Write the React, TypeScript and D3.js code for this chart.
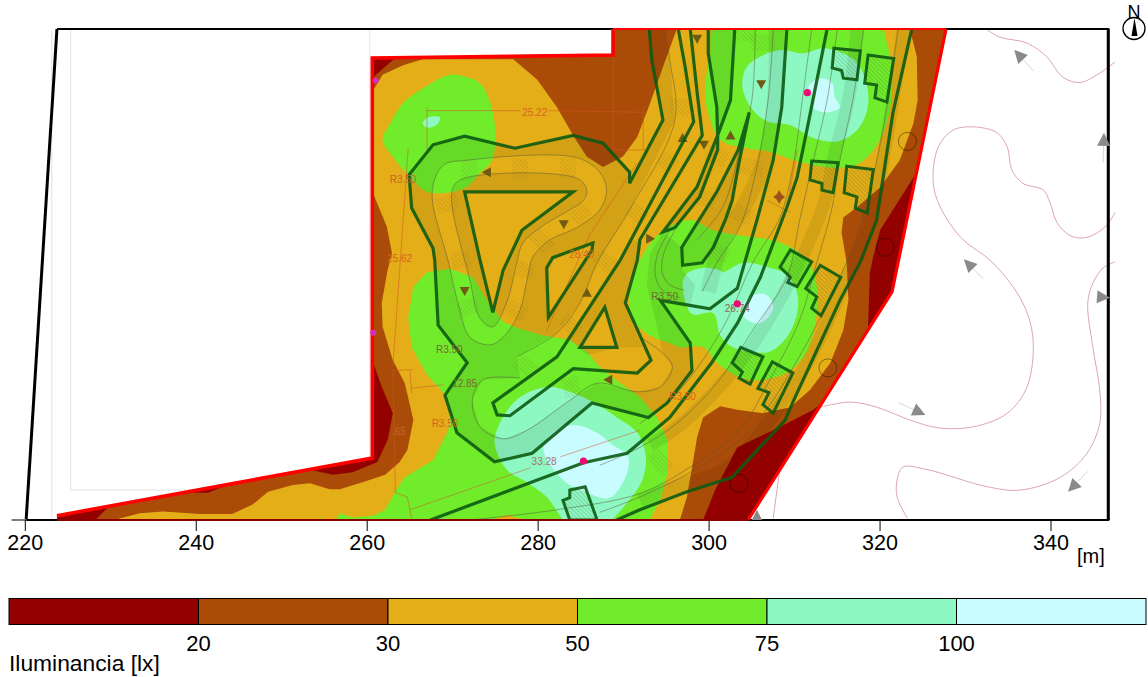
import React from "react";
import * as d3 from "d3";

type P = [number, number];

const width = 1148;
const height = 677;
const xTicks = [220, 240, 260, 280, 300, 320, 340];
const legendColors = ["#920000", "#AA4C08", "#E3AE17", "#70EC2B", "#8EF8C3", "#C9FCFF"];
const legendLabels = ["20", "30", "50", "75", "100"];
const legendTitle = "Iluminancia [lx]";

const siteBoundary: P[] = [[223.7, 0.5], [260.6, 7.25], [260.6, 54.05], [288.76, 54.4], [288.76, 57.45], [327.72, 57.45], [321.4, 26.68], [304.56, 0], [223.7, 0]];
const siteWest: P[] = [[223.7, 0.5], [260.6, 7.25], [260.6, 54.05], [288.76, 54.4], [288.76, 57.45]];
const siteNorth: P[] = [[288.76, 57.45], [327.72, 57.45]];
const siteEast: P[] = [[327.72, 57.45], [321.4, 26.68], [304.56, 0]];
const frameOutline: P[] = [[223.7, 57.45], [346.7, 57.45], [346.7, 0], [220.1, 0]];
const ghostLines: P[][] = [
  [[225.3, 57.4], [225.3, 3.5], [260.3, 3.5], [260.3, 57.4]],
  [[223.1, 57.4], [223.1, 0]],
];

const darkPatches: P[][] = [
  [[260.6, 54.1], [263.3, 54.1], [260.7, 51.8]],
  [[259.7, 18.7], [260.6, 18.7], [261.7, 15.6], [263, 12.5], [262.4, 9.4], [261.2, 6.8], [258.3, 5.6], [256, 5.3], [253.7, 5.8], [252.1, 7], [259.2, 8.2]],
  [[238.7, 3.2], [241.4, 3.2], [243.6, 4.1], [243.6, 5.8], [236.9, 4.7]],
  [[222.9, 1.2], [230.5, 2.3], [229.6, 1.4], [228.2, 0], [222.9, 0]],
  [[299.3, 0], [300.7, 3.5], [303.3, 8.5], [308.3, 10.9], [312.2, 12.9], [316.5, 16.4], [305.9, -1.2], [299.3, -1.2]],
  [[324.1, 40.4], [320, 33.9], [319.2, 30.8], [318.8, 28.9], [318.6, 22.6], [324.7, 25.7], [325.8, 40.4]],
];

const amberZone: P[] = [[259.7, 48.6], [261.8, 52.1], [264.2, 53.2], [266.5, 53.9], [277.1, 53.9], [279.9, 51.5], [282.2, 48.3], [284.1, 45], [285.7, 42.5], [287.6, 41.3], [289.9, 42.5], [291.6, 44.8], [293.1, 48.8], [294.6, 53], [296.2, 57.4], [296.2, 58.5], [323.5, 58.5], [323.5, 57.4], [324.3, 54.2], [324.4, 49.1], [323.9, 46.4], [322.3, 42.1], [320, 38.9], [317.3, 36.6], [315.7, 35.4], [315.5, 33.6], [316.1, 30.1], [316.3, 25.7], [315.7, 22.2], [314.2, 18.4], [311.8, 15.2], [309.5, 13.2], [306.3, 12.5], [303.3, 12.9], [301.3, 13.3], [299.3, 12], [298.6, 9.7], [298.1, 6.7], [297.4, 2.7], [296.4, -0.6], [230.7, -0.6], [230.7, 0.1], [233.4, 0.8], [236.1, 1], [240.4, 0.7], [244.2, 0.7], [246.6, 1.8], [248.4, 3.3], [251.3, 4.1], [253.3, 4.3], [255.6, 3.6], [256.8, 3.6], [260, 4.6], [262.1, 5.3], [263.8, 6.8], [264.7, 8.2], [265.4, 11.7], [264.4, 16], [263, 18.7], [261.8, 22.6], [261.7, 25.4], [262.4, 29.3], [262.9, 31.2], [262.3, 34.3], [260.7, 38.2], [259.7, 38.2]];

const greenLower: P[] = [[264.4, 5], [267.7, 7], [269.5, 10.5], [269.7, 12.9], [268.9, 14.9], [267, 17], [265.2, 20.2], [264.8, 23.7], [265.4, 27.3], [267, 29], [269.7, 29.4], [272.4, 28.4], [274, 25.7], [275.9, 23.2], [277.5, 22.5], [280.6, 21.6], [283.7, 21.1], [285.7, 19.7], [287.2, 17.9], [289.6, 16], [291.9, 14.4], [293.9, 12], [295.1, 9.4], [295.2, 5.8], [294.3, 2.3], [292.7, -0.6], [278.2, -0.6], [278.2, 0.1], [276.4, 0.6], [274.7, 0.1], [274.7, -0.6], [256, -0.6], [256.8, 0.8], [258.3, 0.3], [260.7, 0.5], [262.1, 1.2], [263.5, 3.7]];
const greenSliver: P[] = [[253.7, -0.6], [254.5, 0.3], [255.1, -0.6]];
const greenNorthWest: P[] = [[261.8, 44.5], [262.7, 46.4], [264.2, 48.8], [266.5, 50.5], [269.7, 52.1], [271.7, 51.8], [273.2, 51.1], [274.4, 48.8], [275, 45.3], [274.6, 42.1], [273.2, 40.6], [271.7, 39], [269.3, 38.3], [267, 38.4], [265, 40.1], [263, 42.5]];
const greenNorthEast: P[] = [[300.9, 58.5], [300.1, 54.2], [299.5, 50.3], [299.9, 47.6], [301.3, 44.5], [304.4, 43.5], [307.1, 43.1], [310.6, 41.9], [315, 41.2], [317.7, 41.8], [320, 44.5], [321.2, 48.3], [321.4, 52.3], [320.8, 55.8], [319.6, 58.5]];
const greenMiddle: P[] = [[294.3, 33.6], [297.8, 35.1], [300.5, 33.9], [303.6, 33.3], [308.3, 32.5], [311.5, 30.4], [312.6, 27.3], [312.6, 24.2], [311.5, 19.9], [309.5, 17.5], [306.3, 16.4], [303.6, 16.7], [300.9, 18.4], [299.3, 20.2], [296.6, 20.2], [295.4, 20.7], [293.1, 21.6], [291.1, 23.4], [290.7, 26.6], [291.9, 30.4]];

const mintSmall: P[] = [[266.5, 46.4], [267.1, 47.1], [268.5, 47.1], [268.3, 46.4], [267.1, 45.9]];
const mintNorth: P[] = [[303.9, 50.7], [304.4, 53], [306.8, 54.6], [308.6, 55], [311, 54.6], [313.3, 55.2], [315.7, 54.6], [317.3, 53.5], [318.5, 50.7], [318.5, 48], [317.3, 45.6], [315, 44.3], [312.2, 44.7], [309.5, 46.2], [306.9, 46.6], [305.1, 48]];
const mintMiddle: P[] = [[296.9, 27.7], [297.5, 28.9], [299.3, 29.5], [301.3, 29.2], [301.6, 29], [304, 30.1], [306.8, 29.6], [309.1, 28.7], [310.3, 26.6], [310.3, 24.2], [309.1, 21.4], [307.1, 19.7], [304.8, 19.7], [302.8, 20.2], [301.3, 21.6], [300.5, 24.2], [298, 24.1]];
const mintSouth: P[] = [[274.9, 9], [275.5, 11.3], [277.1, 13.7], [279, 15], [281.4, 15.6], [283.7, 15], [286.4, 13.8], [289.2, 12], [291.6, 10.2], [292.6, 7.4], [292.2, 4.7], [290.4, 2], [287.6, -0.6], [283.7, -0.6], [281, 2.7], [278.7, 4.4], [276.4, 5.8]];

const paleNorth: P[] = [[311.6, 50.7], [313.2, 51.7], [314.4, 51.1], [314.7, 49.5], [315.3, 48.3], [313.8, 47.7], [312.2, 48.2], [312.2, 49.5]];
const paleMiddle: P[] = [[303.6, 24.6], [305.1, 26.3], [306.8, 26.3], [307.5, 24.9], [306.9, 23.7], [305.7, 23], [304.2, 23.6]];
const paleSouth: P[] = [[280.6, 8.5], [282.2, 10.5], [284.5, 11.1], [286.9, 10.2], [288.4, 9], [290.5, 7.4], [290.4, 5.5], [288.4, 2.6], [285.7, 3.2], [283.4, 4.3], [281.6, 6.2]];

const kerbWest: P[] = [[293, 57.4], [293.3, 53.8], [294.6, 46.8], [290.7, 39.4], [290.7, 40.7], [287.6, 44.1], [284.1, 45], [277.3, 43.5], [271.4, 44.9], [267.7, 43.9], [264.9, 40.4], [265.2, 36.5], [267.7, 31.8], [267.9, 30.4], [268.3, 22.8], [271.7, 18.4], [269.1, 14.6], [270.5, 10.2], [274.9, 6.8], [279.3, 7.8], [286.3, 13.7], [292.9, 12], [295.1, 13.7], [298, 17.5], [297.8, 20.7], [294.3, 25.7], [300.1, 24.7], [303.3, 27.1], [305.6, 35.1], [307.5, 42.1], [308.5, 48.3], [309.1, 57.4]];
const kerbBlock: P[] = [[296.4, 57.4], [297.2, 53], [298.2, 46.6], [289.6, 30.4], [282.2, 19.1], [274.7, 13.7], [275.2, 12.3], [276.7, 12.2], [284.1, 17.7], [291.6, 17.2], [293.2, 18.7], [290.2, 25.4], [291.6, 30.4], [291.9, 32.8], [299.2, 45], [298.6, 50], [297.8, 57.4]];
const kerbCentre: P[] = [[299.9, 57.4], [299.9, 54.6], [300.9, 48.3], [301, 45], [298.6, 39], [294.6, 33.7], [296, 34.2], [298.9, 37.8], [301, 43.3], [301, 45], [302.5, 49.1], [303, 57.4]];
const kerbPocket: P[] = [[304.7, 47.7], [303.4, 43.3], [300.9, 38.4], [296.8, 31.9], [296.9, 29.8], [299.2, 30.1], [300.5, 31.9], [301.9, 35.1], [302.7, 37.4], [303.4, 41.3], [304.7, 47.7]];
const kerbSouth: P[] = [[267.4, 0], [285.3, 6.7], [290.4, 7.8], [295.4, 12], [300.3, 18.4], [303.3, 23], [306, 28.4], [309.1, 36.6], [310.3, 40.1], [311.6, 46.4], [313.8, 57.4]];
const kerbOuter: P[] = [[323.7, 57.4], [321.5, 47.6], [319.6, 35.1], [317.7, 30.2], [315.3, 25.7], [309.8, 13.8], [308.9, 11.7], [302.7, 5], [297.4, 3.3], [291.9, 1.2], [289.2, 0]];
const islandLarge: P[] = [[271.4, 38.4], [284.1, 38.4], [278.1, 33.9], [275.9, 29.2], [274.7, 24.3], [273.2, 30.4]];
const islandMedium: P[] = [[286.4, 32.4], [281.7, 30.7], [281, 29.5], [281.2, 23.7], [286.3, 31.6]];
const islandSmall: P[] = [[287.8, 24.9], [289.2, 20.2], [284.9, 20.2]];

const houses: P[][] = [
  [[314.6, 55.2], [317.7, 54.9], [317.3, 51.5], [315.7, 51.7], [315.5, 52.6], [314.4, 52.9]],
  [[318.6, 54.4], [321.6, 54], [320.8, 48.9], [319.4, 49.4], [319.6, 50.9], [318.2, 51.1]],
  [[312, 42], [315.1, 41.8], [314.5, 38.3], [313.2, 38.6], [313.2, 39.4], [311.8, 39.8]],
  [[316.1, 41.4], [319.2, 41], [318.5, 35.9], [317.1, 36.5], [317.3, 37.8], [315.8, 38.3]],
  [[309.5, 31.6], [312, 30.2], [310.3, 27.3], [309.2, 27.8], [309.5, 28.4], [308.3, 29.6]],
  [[313, 29.8], [315.4, 28.4], [313.1, 23.9], [312, 24.8], [312.6, 26.1], [311.3, 27.1]],
  [[303.7, 20.2], [306.3, 19.1], [304.8, 15.9], [303.5, 16.6], [303.9, 17.3], [302.7, 18.4]],
  [[307.4, 18.5], [309.8, 17.2], [307.5, 12.5], [306.3, 13.5], [307, 14.9], [305.7, 15.4]],
  [[283.7, 3.5], [285.5, 3.9], [286.9, 0], [283.7, 0], [282.9, 2.3], [283.7, 2.6]],
];

const loopOuter: P[] = [[267.6, 38.4], [268.9, 41.5], [271.7, 42.1], [284.5, 42.4], [287.2, 40.7], [288, 38.6], [287.2, 36.3], [284.5, 34.2], [281.4, 32.8], [279.4, 30.8], [278.7, 28.1], [277.9, 24.6], [276.1, 21.6], [274.4, 20.5], [272, 21.4], [270.7, 25.1], [269.5, 30.2]];
const loopInner: P[] = [[269.9, 38.3], [270.9, 39.8], [284.5, 40], [285.7, 38.6], [285.3, 37.4], [283.7, 36.3], [280.2, 34.2], [278.2, 32.4], [277.5, 30.1], [276.4, 25.7], [274.7, 22.6], [273.2, 23.6], [272, 28.1]];
const westRoadReturn: P[] = [[293.7, 23.4], [294.6, 19.5], [295.7, 17.9], [294.3, 15.6], [291.6, 15], [286.9, 16], [283.7, 14], [278.7, 10.5], [275.9, 9.5], [273.2, 10.9], [272.3, 14], [273.5, 16.4], [277.9, 16.6], [277.5, 19.1], [282.2, 21.9], [284.9, 25.4], [286.9, 30.1], [290.7, 36.3], [296, 46.8], [295.4, 53.8], [294.8, 57.4]];
const blockBody: P[] = [[292.2, 32.5], [290.2, 25.4], [291.1, 22.6], [292.2, 20.2], [289.6, 20.2], [285.7, 19.3], [283.7, 21.1], [289.6, 30.4], [290.9, 32.8]];
const arcPocket: P[] = [[294.6, 33.7], [293.1, 31.2], [292.7, 27.5], [293.7, 23.4], [294.5, 25.7], [297.8, 25.1], [298.4, 27.5], [296.9, 29.2], [296.8, 31.9]];

const roadBands: P[][] = [
  [[307.9, 57.4], [307.7, 49.1], [306.5, 42.1], [304, 36.6], [301.6, 32.8], [299.9, 26.7]],
  [[322.7, 57.4], [321.5, 49.1], [319, 35.7], [316.5, 29.2], [311.5, 18.4], [309.1, 14.6], [307.1, 11.7], [302.2, 6.2], [295.8, 3.8], [291.9, 2.3]],
  [[317.3, 57.4], [316.3, 49.1], [314.5, 42.1], [313.4, 36.9], [309.5, 28], [305.4, 21], [301.9, 16.4], [296.6, 11.1], [293.1, 8.8]],
];

const roadEdges: P[][] = [
  [[305.4, 57.4], [305, 49.1], [303.6, 43.3], [301.6, 36.6], [298.6, 32.8]],
  [[307.5, 57.4], [306.9, 49.1], [305.6, 41.3], [303.6, 34.3], [300.9, 30.1], [299.2, 26.7]],
  [[312, 57.4], [311, 49.9], [309.8, 41.3], [308.3, 35.4], [305.1, 30.1], [302.1, 23.4], [298.7, 17.9], [295.4, 14], [291.9, 11.3]],
  [[315, 57.4], [313.8, 49.1], [312.2, 42.1], [310.6, 35.1], [309.1, 28.4], [305.1, 22.2], [300.9, 16], [296.2, 11.3], [291.9, 8.5], [287.2, 6.4]],
  [[318.1, 57.4], [316.8, 49.1], [315.3, 42.1], [314.4, 36.6], [312.5, 29.8], [310.6, 23.4], [307.1, 16.4], [303.3, 10.2], [297.8, 6.2], [291.9, 3.1], [282.2, 1.2], [272, 0]],
  [[322.1, 57.4], [320.4, 46], [318.5, 37.4], [316.8, 31.9], [311, 19.9], [305.1, 10.9], [299.8, 6.7], [291.9, 2.7], [287.2, 0.9]],
  [[294.8, 57.4], [295.4, 53.8], [296, 46.8], [290.7, 36.3], [286.9, 30.1], [284.9, 25.4], [282.2, 21.9], [277.5, 19.1]],
  [[277.9, 16.6], [273.5, 16.4], [272.3, 14], [273.2, 10.9], [275.9, 9.5], [278.7, 10.5], [283.7, 14], [286.9, 16], [291.6, 15], [294.3, 15.6], [295.7, 17.9], [294.6, 19.5], [291.9, 21.4]],
  [[295.4, 33.9], [294, 31.2], [293.7, 28.7], [294.5, 26.9], [296.6, 26]],
  [[296, 33.9], [294.7, 31.2], [294.5, 29], [295.4, 27.5], [297.1, 26.9]],
];

const dimensionLines: P[][] = [
  [[267, 47.9], [277.9, 47.9]],
  [[281.2, 47.9], [292.5, 47.7]],
  [[267, 48.3], [267, 43]],
  [[292.3, 48.3], [292.3, 43.3]],
  [[288.8, 54.4], [288.8, 43.3], [292.5, 43.3]],
  [[264.8, 43.5], [263, 17.9]],
  [[263, 17.5], [265.4, 17.6]],
  [[265, 15.4], [268.9, 15.8]],
  [[265, 17.5], [265.2, 14.8]],
  [[263, 17.5], [263.3, 3.2], [264.7, 2.7], [265.2, 0]],
  [[265, 1.2], [279.1, 6.1]],
  [[282.6, 7.4], [291.9, 10.5]],
  [[286.1, 33.5], [291.6, 41.8]],
  [[286.1, 33.5], [281, 22.2]],
  [[306.8, 37.4], [309.5, 36]],
  [[310.3, 43.3], [309.1, 36.6]],
];

const crossings: P[][] = [
  [[272, 42.1], [272, 39.8]], [[277.9, 42.2], [277.9, 39.9]], [[283.5, 42.4], [283.5, 40]],
  [[268.1, 36.6], [270.6, 37.4]], [[269.9, 30.2], [272, 30.7]], [[284.1, 35.1], [285.7, 36.6]],
  [[279.5, 33.7], [281.3, 31.6]], [[277.5, 29.5], [279.4, 29]], [[286.9, 31], [288.8, 29.5]],
  [[290.7, 36.5], [292.5, 35.1]], [[294.3, 42.5], [296, 41.2]], [[295.4, 48.5], [297.8, 48.2]],
  [[303, 57], [305.6, 56.9]], [[304.8, 55.8], [307.7, 55.8]], [[303.4, 41.5], [306.3, 41]],
  [[299.8, 43], [302.1, 42.1]], [[298.4, 38], [300.7, 37.2]], [[302.1, 36.5], [305, 35.3]],
  [[300.1, 31.8], [302.2, 30.7]], [[270.6, 24.6], [272.9, 25.2]], [[276.1, 25.1], [278.5, 24]],
  [[277.5, 18.7], [279.6, 17.3]], [[283.7, 16.7], [284.1, 14.4]], [[282.9, 23.6], [284.7, 21.9]],
  [[293.3, 7.8], [295.2, 5.8]],
];

const roadLabels: { t: string; p: P; c: string }[] = [
  { t: "25.22", p: [279.6, 47.6], c: "#D9641E" },
  { t: "R3.50", p: [264.2, 39.7], c: "#C8642A" },
  { t: "25.62", p: [263.8, 30.5], c: "#D9641E" },
  { t: "28.40", p: [285.1, 31], c: "#D9641E" },
  { t: "R3.50", p: [294.8, 26], c: "#7A6A30" },
  { t: "26.74", p: [303.3, 24.6], c: "#8A6A50" },
  { t: "R3.50", p: [269.6, 19.9], c: "#7A6A30" },
  { t: "12.85", p: [271.4, 15.9], c: "#7A6A30" },
  { t: "R3.50", p: [269.1, 11.2], c: "#D9641E" },
  { t: "33.28", p: [280.7, 6.7], c: "#A87070" },
  { t: ".65", p: [263.7, 10.3], c: "#C8642A" },
  { t: "R3.50", p: [296.9, 14.4], c: "#D9641E" },
];

const luminaires: P[] = [[311.5, 50], [303.3, 25.3], [285.3, 6.9]];
const boundaryMarks: P[] = [[261, 51.4], [260.7, 21.9]];
const poles: P[] = [[323.2, 44.3], [320.6, 31.9], [313.9, 17.8], [303.5, 4.3]];

const contourLines: P[][] = [
  [[347.5, 36], [346.7, 34.7], [345.4, 33.6], [343.8, 33], [342.2, 33.3], [340.7, 34.8], [339.9, 37.1], [339.1, 38.6], [336.7, 39.4], [335.4, 41], [334.9, 43.6], [333.7, 45.3], [330.9, 46], [328.5, 45.6], [326.8, 43.6], [326.2, 40.1], [326.7, 37.4], [329.4, 33.1], [333.2, 30.1], [336.7, 25.4], [337.9, 21.1], [337.2, 15.6], [334.9, 12.5], [330.9, 10.9], [326.7, 10.8], [323.5, 11.7], [319.6, 13.2], [316.5, 13.8], [313, 13.2]],
  [[347.5, 30.2], [346.1, 29.5], [344.9, 27.7], [344.3, 25.4], [344.9, 20.2], [345.7, 15.2], [345.7, 11.3], [344.2, 7.8], [341.1, 5], [336.4, 3.5], [332.5, 3.9], [325.5, 5.9], [322.7, 6.2], [322, 4.7], [322, 2.7], [323.2, 0.2]],
  [[332.5, 57.4], [334, 56.5], [337.2, 55.8], [339.5, 54.2], [341.4, 51.8], [343.4, 51.2], [345.4, 52.1], [347.5, 53.6]],
  [[308.3, 6.2], [307.5, 0.2]],
];

const flowArrows: { tail: P; tip: P }[] = [
  { tail: [338, 52.5], tip: [335.7, 55] },
  { tail: [346.1, 41.8], tip: [346.2, 45.3] },
  { tail: [332.1, 28.2], tip: [329.8, 30.5] },
  { tail: [322.2, 13.7], tip: [325.3, 12.3] },
  { tail: [345.6, 26.1], tip: [346.9, 26] },
  { tail: [344.3, 5.7], tip: [342, 3.3] },
  { tail: [305.6, -1.2], tip: [305.6, 1.2] },
];
const trafficArrows: { p: P; deg: number }[] = [
  { p: [274, 40.7], deg: 270 }, { p: [283, 34.6], deg: 180 }, { p: [271.4, 26.8], deg: 180 },
  { p: [285.7, 26.6], deg: 0 }, { p: [288.2, 16.4], deg: 270 }, { p: [306.1, 51], deg: 180 },
  { p: [298.6, 56.3], deg: 180 }, { p: [296.9, 44.7], deg: 0 }, { p: [299.4, 43.9], deg: 180 },
  { p: [302.5, 45], deg: 0 }, { p: [293.1, 32.9], deg: 90 },
];
const roundabout: P = [308.2, 37.8];

const x = d3.scaleLinear().domain([220, 340]).range([25.3, 1051]);
const y = d3.scaleLinear().domain([0, 57.45]).range([520, 29]);
const legendX = d3.scaleBand<number>().domain(d3.range(legendColors.length)).range([9, 1146]);

const pen = d3.line<P>().x((d) => x(d[0])).y((d) => y(d[1]));
const open = (d: P[]) => pen.curve(d3.curveLinear)(d) as string;
const poly = (d: P[]) => pen.curve(d3.curveLinearClosed)(d) as string;
const blob = (d: P[]) => pen.curve(d3.curveCatmullRomClosed.alpha(0.5))(d) as string;
const curve = (d: P[]) => pen.curve(d3.curveCatmullRom.alpha(0.5))(d) as string;

const kerbStroke = "#0C5A12";

function Arrow({ tail, tip }: { tail: P; tip: P }) {
  const a = [x(tail[0]), y(tail[1])];
  const b = [x(tip[0]), y(tip[1])];
  const len = Math.hypot(b[0] - a[0], b[1] - a[1]);
  const u = [(b[0] - a[0]) / len, (b[1] - a[1]) / len];
  const base = [b[0] - u[0] * 13, b[1] - u[1] * 13];
  const n = [-u[1] * 6.5, u[0] * 6.5];
  return (
    <g>
      <line x1={a[0]} y1={a[1]} x2={base[0]} y2={base[1]} stroke="#d8d8d8" strokeWidth={1} />
      <path d={`M${b[0]},${b[1]}L${base[0] + n[0]},${base[1] + n[1]}L${base[0] - n[0]},${base[1] - n[1]}Z`} fill="#8A8A8A" />
    </g>
  );
}

export default function App() {
  const westRoad = [...kerbWest.slice(0, 26), ...westRoadReturn];
  const roadDark = [poly(westRoad), blob(loopOuter), blob(loopInner), poly(islandLarge), poly(islandMedium)].join("");
  const bodyDark = [poly(blockBody), poly(islandSmall)].join("");
  return (
    <svg width={width} height={height} style={{ position: "absolute", left: 0, top: 0, fontFamily: "'Liberation Sans', Arial, sans-serif" }}>
      <defs>
        <clipPath id="site"><path d={poly(siteBoundary)} /></clipPath>
        <clipPath id="frame"><rect x={0} y={0} width={1148} height={y(0)} /></clipPath>
        <pattern id="hatchHouse" width={3} height={3} patternUnits="userSpaceOnUse" patternTransform="rotate(45)">
          <line x1={0} y1={0} x2={3} y2={0} stroke="#3a5a30" strokeWidth={0.8} strokeOpacity={0.55} />
        </pattern>
        <pattern id="hatchCross" width={3} height={3} patternUnits="userSpaceOnUse" patternTransform="rotate(45)">
          <line x1={0} y1={0} x2={3} y2={0} stroke="#6b5a20" strokeWidth={0.7} strokeOpacity={0.5} />
        </pattern>
      </defs>

      <rect width={width} height={height} fill="#fff" />

      {ghostLines.map((d, i) => <path key={i} d={open(d)} fill="none" stroke="#e2e2e2" strokeWidth={1} />)}
      <g clipPath="url(#frame)">
        {contourLines.map((d, i) => <path key={i} d={curve(d)} fill="none" stroke="#DDA6AC" strokeWidth={1} />)}
      </g>
      <path d={open(frameOutline)} fill="none" stroke="#000" strokeWidth={2} />
      <line x1={x(346.7)} x2={x(346.7)} y1={y(57.45)} y2={y(0)} stroke="#000" strokeWidth={3} />
      <line x1={x(223.7)} y1={y(57.45)} x2={x(220.1)} y2={y(0)} stroke="#000" strokeWidth={3} />
      <line x1={x(218.4)} x2={x(220.1)} y1={y(0)} y2={y(0)} stroke="#808080" strokeWidth={2} />
      <g clipPath="url(#frame)">
        {flowArrows.map((a, i) => <Arrow key={i} tail={a.tail} tip={a.tip} />)}
      </g>

      <g clipPath="url(#site)">
        <path d={poly(siteBoundary)} fill={legendColors[1]} />
        {darkPatches.map((d, i) => <path key={i} d={poly(d)} fill={legendColors[0]} />)}
        <path d={poly(amberZone)} fill={legendColors[2]} />
        <path d={poly(greenLower)} fill={legendColors[3]} />
        <path d={poly(greenSliver)} fill={legendColors[3]} />
        <path d={blob(greenNorthWest)} fill={legendColors[3]} />
        <path d={blob(greenNorthEast)} fill={legendColors[3]} />
        <path d={blob(greenMiddle)} fill={legendColors[3]} />
        {[mintSmall, mintNorth, mintMiddle, mintSouth].map((d, i) => <path key={i} d={blob(d)} fill={legendColors[4]} />)}
        {[paleNorth, paleMiddle, paleSouth].map((d, i) => <path key={i} d={blob(d)} fill={legendColors[5]} />)}

        <path d={roadDark} fill="#000" fillOpacity={0.075} fillRule="evenodd" />
        <path d={bodyDark} fill="#000" fillOpacity={0.075} fillRule="evenodd" />
        <path d={poly(arcPocket)} fill="#000" fillOpacity={0.075} />
        <path d={poly(kerbCentre)} fill="#000" fillOpacity={0.075} />
        <path d={poly(kerbPocket)} fill="#000" fillOpacity={0.075} />
        {roadBands.map((d, i) => <path key={i} d={curve(d)} fill="none" stroke="#000" strokeOpacity={0.075} strokeWidth={i === 0 ? 16 : 13} />)}

        {crossings.map((d, i) => <path key={i} d={open(d)} stroke="url(#hatchCross)" strokeWidth={16} fill="none" />)}

        {roadEdges.map((d, i) => <path key={i} d={curve(d)} fill="none" stroke="#55553f" strokeOpacity={0.6} strokeWidth={0.8} />)}
        <path d={blob(loopOuter)} fill="none" stroke="#55553f" strokeOpacity={0.6} strokeWidth={0.8} />
        <path d={blob(loopInner)} fill="none" stroke="#55553f" strokeOpacity={0.6} strokeWidth={0.8} />
        {dimensionLines.map((d, i) => <path key={i} d={open(d)} fill="none" stroke="#D2552A" strokeOpacity={0.65} strokeWidth={0.8} />)}

        {poles.map((p, i) => <circle key={i} cx={x(p[0])} cy={y(p[1])} r={9} fill="none" stroke="#000" strokeOpacity={0.5} strokeWidth={0.8} />)}

        {trafficArrows.map((a, i) => (
          <path key={i} transform={`translate(${x(a.p[0])},${y(a.p[1])}) rotate(${a.deg})`} d="M0,-5L5,4L-5,4Z" fill="#6E5A12" />
        ))}
        <path transform={`translate(${x(roundabout[0])},${y(roundabout[1])})`} d="M0,-7L2.5,-2.5L6,0L2.5,2.5L0,7L-2.5,2.5L-6,0L-2.5,-2.5Z" fill="#A0501C" />

        {[kerbWest, kerbSouth, kerbOuter].map((d, i) => <path key={i} d={open(d)} fill="none" stroke={kerbStroke} strokeOpacity={0.9} strokeWidth={3.2} />)}
        {[kerbBlock, kerbCentre, kerbPocket].map((d, i) => <path key={i} d={open(d)} fill="none" stroke={kerbStroke} strokeOpacity={0.9} strokeWidth={3.2} />)}
        {[islandLarge, islandMedium, islandSmall].map((d, i) => <path key={i} d={poly(d)} fill="none" stroke={kerbStroke} strokeOpacity={0.9} strokeWidth={3.2} />)}
        {houses.map((d, i) => <path key={i} d={poly(d)} fill="url(#hatchHouse)" stroke={kerbStroke} strokeOpacity={0.9} strokeWidth={3} />)}

        {roadLabels.map((l, i) => (
          <text key={i} x={x(l.p[0])} y={y(l.p[1])} textAnchor="middle" dominantBaseline="middle" fontSize={10} fill={l.c}>{l.t}</text>
        ))}
      </g>

      <path d={open(siteWest)} fill="none" stroke="#FF0000" strokeWidth={3.6} />
      <path d={open(siteNorth)} fill="none" stroke="#FF0000" strokeWidth={2} />
      <path d={open(siteEast)} fill="none" stroke="#FF0000" strokeWidth={3.2} />
      <line x1={x(223.7)} x2={x(304.56)} y1={y(0)} y2={y(0)} stroke="#8B0000" strokeWidth={2} />
      {luminaires.map((p, i) => <circle key={i} cx={x(p[0])} cy={y(p[1])} r={3.6} fill="#EE0A72" />)}
      {boundaryMarks.map((p, i) => <circle key={i} cx={x(p[0])} cy={y(p[1])} r={3} fill="#D030C0" />)}

      {xTicks.map((t) => (
        <g key={t}>
          <line x1={x(t)} x2={x(t)} y1={y(0)} y2={y(0) + 11} stroke="#000" strokeWidth={1} />
          <text x={x(t)} y={550} textAnchor="middle" fontSize={21.5} fill="#000">{t}</text>
        </g>
      ))}
      <text x={1077} y={563} fontSize={20} fill="#000">[m]</text>

      {legendColors.map((c, i) => (
        <rect key={c} x={legendX(i)} y={598.5} width={legendX.bandwidth()} height={26} fill={c} stroke="#000" strokeWidth={1} />
      ))}
      {legendLabels.map((t, i) => (
        <text key={t} x={legendX(i + 1)} y={651} textAnchor="middle" fontSize={22} fill="#000">{t}</text>
      ))}
      <text x={9} y={671} fontSize={22.8} fill="#000">{legendTitle}</text>

      <text x={1134} y={17.5} textAnchor="middle" fontSize={18} fill="#000">N</text>
      <circle cx={1134} cy={28.5} r={11} fill="#fff" stroke="#000" strokeWidth={1.3} />
      <path d="M1134.5,18L1131.5,36L1137.5,36Z" fill="#000" />
    </svg>
  );
}
